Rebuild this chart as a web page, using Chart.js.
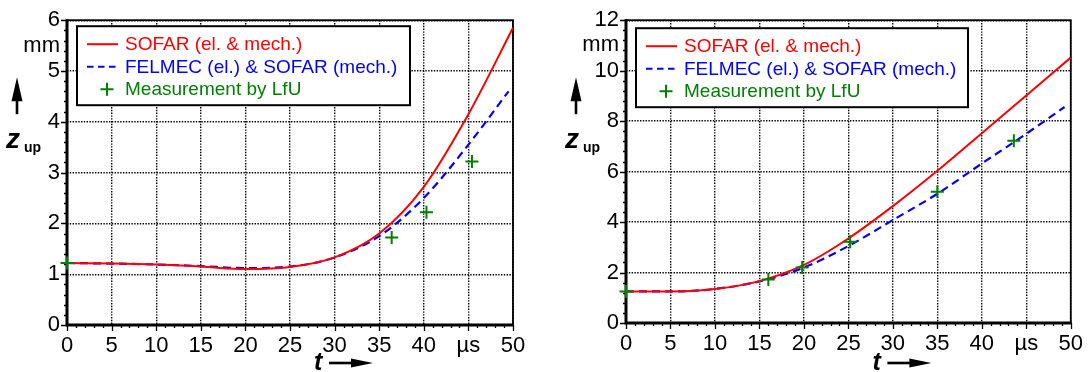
<!DOCTYPE html>
<html lang="en">
<head>
<meta charset="UTF-8" />
<title>z_up over t</title>
<script src="https://cdn.jsdelivr.net/npm/chart.js"></script>
<style>
  body { margin: 0; background: #fff; width: 1091px; height: 372px; overflow: hidden; position: relative; }
  canvas { position: absolute; top: 0; }
  #left { left: 0; }
  #right { left: 545px; }
</style>
</head>
<body>
<canvas id="left" width="545" height="372"></canvas>
<canvas id="right" width="546" height="372"></canvas>
<script>
// ---- data (t in µs, z_up in mm) ----
const seriesLabels = ["SOFAR (el. & mech.)", "FELMEC (el.) & SOFAR (mech.)", "Measurement by LfU"];

// left plot
const tSofarLeft = [0, 5, 10, 15, 20, 25, 30, 35, 40, 45, 50];
const sofarLeft = [1.22, 1.21, 1.19, 1.15, 1.1, 1.14, 1.33, 1.8, 2.72, 4.15, 5.85];
const tFelmecLeft = [0, 5, 10, 15, 20, 25, 30, 35, 40, 45, 49.5];
const felmecLeft = [1.22, 1.21, 1.19, 1.16, 1.12, 1.15, 1.33, 1.75, 2.5, 3.55, 4.6];
const tMeasLeft = [0, 36.4, 40.3, 45.4];
const measLeft = [1.22, 1.72, 2.22, 3.22];

// right plot
const tSofarRight = [0, 5, 10, 15, 20, 25, 30, 35, 40, 45, 50];
const sofarRight = [1.25, 1.25, 1.35, 1.66, 2.3, 3.35, 4.63, 6.03, 7.52, 9.02, 10.52];
const tFelmecRight = [0, 5, 10, 15, 20, 25, 30, 35, 40, 45, 49.3];
const felmecRight = [1.25, 1.25, 1.35, 1.65, 2.2, 3.05, 4.08, 5.12, 6.32, 7.5, 8.56];
const tMeasRight = [0, 16, 19.8, 25.2, 35, 43.6];
const measRight = [1.25, 1.72, 2.2, 3.22, 5.2, 7.22];

// ticks
const xTicks = [0, 5, 10, 15, 20, 25, 30, 35, 40, 45, 50];
const xUnitAt = 45, xUnit = "µs";
const yTicksLeft = [0, 1, 2, 3, 4, 5, 6];
const yUnitAtLeft = 5.5;
const yTicksRight = [0, 2, 4, 6, 8, 10, 12];
const yUnitAtRight = 11;
const yUnit = "mm";

const FONT = '"Liberation Sans", Arial, Helvetica, sans-serif';
const RED = "#ff0000", BLUE = "#0000ff", GREEN = "#008000";

const pts = (xs, ys) => xs.map((x, i) => ({ x: x, y: ys[i] }));

// frame, minor ticks, boxed legend and arrow titles
const decor = {
  id: "decor",
  beforeDatasetsDraw(chart, args, o) {
    const { ctx, chartArea: a, scales: { x, y } } = chart;
    ctx.save();
    ctx.strokeStyle = "#000";
    ctx.lineWidth = 1.3;
    ctx.beginPath();
    const nx = Math.round((x.max - x.min) / o.minorX);
    for (let i = 0; i <= nx; i++) {
      const v = x.min + i * o.minorX;
      const px = Math.round(x.getPixelForValue(v)) + 0.5;
      const len = xTicks.includes(Math.round(v * 100) / 100) ? 6 : 3;
      ctx.moveTo(px, a.bottom); ctx.lineTo(px, a.bottom + len);
    }
    const ny = Math.round((y.max - y.min) / o.minorY);
    for (let i = 0; i <= ny; i++) {
      const v = y.min + i * o.minorY;
      const py = Math.round(y.getPixelForValue(v)) + 0.5;
      const len = o.yMajor.includes(Math.round(v * 100) / 100) ? 6 : 3;
      ctx.moveTo(a.left, py); ctx.lineTo(a.left - len, py);
    }
    ctx.stroke();
    // thin top/right, heavy left/bottom
    ctx.lineWidth = 1.8;
    ctx.strokeRect(a.left, a.top, a.right - a.left, a.bottom - a.top);
    ctx.lineWidth = 3;
    ctx.beginPath();
    ctx.moveTo(a.left, a.top - 1); ctx.lineTo(a.left, a.bottom); ctx.lineTo(a.right + 1, a.bottom);
    ctx.stroke();
    ctx.restore();
  },
  afterDatasetsDraw(chart, args, o) {
    const { ctx, chartArea: a } = chart;
    ctx.save();
    // legend box
    const bx = a.left + o.legend.dx, by = a.top + o.legend.dy;
    ctx.fillStyle = "#fff";
    ctx.fillRect(bx, by, o.legend.w, o.legend.h);
    ctx.strokeStyle = "#000";
    ctx.lineWidth = 2;
    ctx.strokeRect(bx, by, o.legend.w, o.legend.h);
    ctx.font = "19px " + FONT;
    ctx.textBaseline = "middle";
    ctx.textAlign = "left";
    chart.data.datasets.forEach((ds, i) => {
      const cy = by + 18 + i * 22.5;
      ctx.strokeStyle = ds.borderColor;
      ctx.lineWidth = 2;
      ctx.beginPath();
      if (ds.showLine === false) {
        const cx = bx + 30;
        ctx.moveTo(cx - 6.5, cy); ctx.lineTo(cx + 6.5, cy);
        ctx.moveTo(cx, cy - 6.5); ctx.lineTo(cx, cy + 6.5);
      } else {
        ctx.setLineDash(ds.borderDash ? [6.5, 4.5] : []);
        ctx.moveTo(bx + 10, cy); ctx.lineTo(bx + 41, cy);
      }
      ctx.stroke();
      ctx.setLineDash([]);
      ctx.fillStyle = ds.borderColor;
      ctx.fillText(ds.label, bx + 48, cy + 1);
    });

    // y title: arrow up + z_up
    ctx.fillStyle = "#000";
    const ax = a.left - 50;
    ctx.beginPath();
    ctx.moveTo(ax, a.top + 57);
    ctx.lineTo(ax - 5.5, a.top + 81);
    ctx.lineTo(ax + 5.5, a.top + 81);
    ctx.closePath();
    ctx.fill();
    ctx.fillRect(ax - 1.3, a.top + 79, 2.6, 15);
    ctx.textBaseline = "alphabetic";
    ctx.font = "italic bold 28px " + FONT;
    ctx.fillText("z", a.left - 61, a.top + 128);
    ctx.font = "bold 14px " + FONT;
    ctx.fillText("up", a.left - 43, a.top + 132);

    // x title: t + arrow right
    const tx = (a.left + a.right) / 2 + 24;
    const ty = chart.height - 2;
    ctx.font = "italic bold 25px " + FONT;
    ctx.fillText("t", tx, ty);
    const ay = ty - 7;
    ctx.fillRect(tx + 15, ay - 1.3, 24, 2.6);
    ctx.beginPath();
    ctx.moveTo(tx + 59, ay);
    ctx.lineTo(tx + 37, ay - 4.5);
    ctx.lineTo(tx + 37, ay + 4.5);
    ctx.closePath();
    ctx.fill();
    ctx.restore();
  }
};

function makeChart(id, d) {
  const tickFont = { family: FONT, size: 22 };
  const hide = (v) => (c) => (c.tick && c.tick.value === v ? "rgba(0,0,0,0)" : "#000");
  return new Chart(document.getElementById(id), {
    type: "line",
    plugins: [decor],
    data: {
      datasets: [
        {
          label: seriesLabels[0], data: d.sofar, borderColor: RED, backgroundColor: RED,
          borderWidth: 2, pointRadius: 0, cubicInterpolationMode: "monotone", order: 1
        },
        {
          label: seriesLabels[1], data: d.felmec, borderColor: BLUE, backgroundColor: BLUE,
          borderWidth: 2.2, borderDash: [8, 5], pointRadius: 0, cubicInterpolationMode: "monotone", order: 2
        },
        {
          label: seriesLabels[2], data: d.meas, borderColor: GREEN, backgroundColor: GREEN,
          showLine: false, pointStyle: "cross", pointRadius: 6.5, pointBorderWidth: 2, clip: false, order: 0
        }
      ]
    },
    options: {
      responsive: false,
      animation: false,
      devicePixelRatio: 1,
      layout: { padding: d.pad },
      plugins: {
        legend: { display: false },
        tooltip: { enabled: false },
        decor: { minorX: 1, minorY: d.minorY, yMajor: d.yTicks, legend: d.legend }
      },
      scales: {
        x: {
          type: "linear", min: 0, max: 50,
          afterBuildTicks: (s) => { s.ticks = xTicks.map((v) => ({ value: v })); },
          afterFit: (s) => { s.height = d.xH; },
          ticks: {
            autoSkip: false, maxRotation: 0, padding: 8, color: "#000", font: tickFont,
            callback: (v) => (v === xUnitAt ? xUnit : v)
          },
          grid: { color: "#000", lineWidth: 1.4, drawTicks: false },
          border: { display: false, dash: [1.4, 1.4] }
        },
        y: {
          type: "linear", min: d.yTicks[0], max: d.yTicks[d.yTicks.length - 1],
          afterBuildTicks: (s) => {
            s.ticks = d.yTicks.concat([d.yUnitAt]).sort((p, q) => p - q).map((v) => ({ value: v }));
          },
          afterFit: (s) => { s.width = d.yW; },
          ticks: {
            autoSkip: false, padding: 7, color: "#000", font: tickFont,
            callback: (v) => (v === d.yUnitAt ? yUnit : v)
          },
          grid: { color: hide(d.yUnitAt), lineWidth: 1.4, drawTicks: false },
          border: { display: false, dash: [1.4, 1.4] }
        }
      }
    }
  });
}

makeChart("left", {
  sofar: pts(tSofarLeft, sofarLeft),
  felmec: pts(tFelmecLeft, felmecLeft),
  meas: pts(tMeasLeft, measLeft),
  yTicks: yTicksLeft, yUnitAt: yUnitAtLeft, minorY: 0.2,
  pad: { left: 0, top: 17, right: 32, bottom: 0 }, yW: 67, xH: 47,
  legend: { dx: 10, dy: 6, w: 333, h: 79 }
});

makeChart("right", {
  sofar: pts(tSofarRight, sofarRight),
  felmec: pts(tFelmecRight, felmecRight),
  meas: pts(tMeasRight, measRight),
  yTicks: yTicksRight, yUnitAt: yUnitAtRight, minorY: 0.4,
  pad: { left: 0, top: 15, right: 20, bottom: 0 }, yW: 81, xH: 49,
  legend: { dx: 10, dy: 8, w: 332, h: 79 }
});
</script>
</body>
</html>
